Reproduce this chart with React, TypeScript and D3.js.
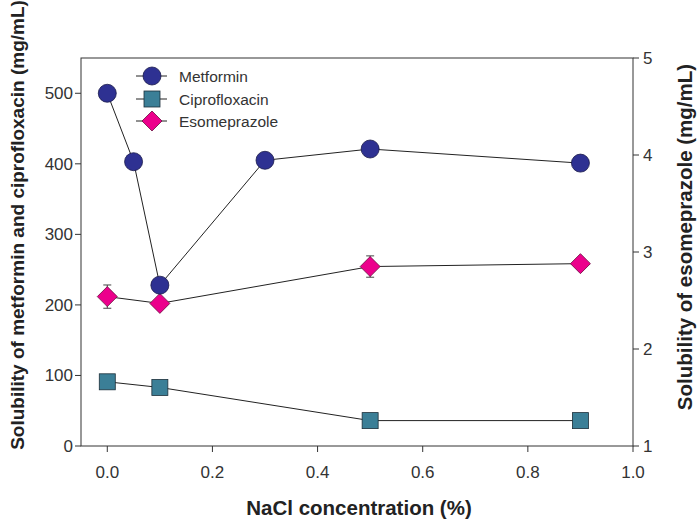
import React from "react";
import * as d3 from "d3";

const metX = [0, 0.05, 0.1, 0.3, 0.5, 0.9];
const metY = [500, 403, 228, 405, 421, 401];
const ciproX = [0, 0.1, 0.5, 0.9];
const ciproY = [91, 83, 36, 36];
const esoX = [0, 0.1, 0.5, 0.9];
const esoY = [2.54, 2.47, 2.85, 2.88];
const esoErr = [0.12, 0, 0.11, 0];
const xTicks = [0, 0.2, 0.4, 0.6, 0.8, 1.0];
const leftTicks = [0, 100, 200, 300, 400, 500];
const rightTicks = [1, 2, 3, 4, 5];
const legendNames = ["Metformin", "Ciprofloxacin", "Esomeprazole"];

const W = 700, H = 522;
const L = 81, R = 633, T = 58, B = 446;

export default function App() {
  const x = d3.scaleLinear().domain([-0.05, 1.0]).range([L, R]);
  const yL = d3.scaleLinear().domain([0, 550]).range([B, T]);
  const yR = d3.scaleLinear().domain([1, 5]).range([B, T]);
  const font = "'Liberation Sans', Arial, sans-serif";
  const met = metX.map((v, i) => [x(v), yL(metY[i])] as [number, number]);
  const cip = ciproX.map((v, i) => [x(v), yL(ciproY[i])] as [number, number]);
  const eso = esoX.map((v, i) => [x(v), yR(esoY[i])] as [number, number]);
  const line = d3.line();
  const metColor = "#2e3192", cipColor = "#3b7f97", esoColor = "#ec008c";
  const circle = (cx: number, cy: number, k: string) => (
    <circle key={k} cx={cx} cy={cy} r={9} fill={metColor} stroke="#1a1a4a" strokeWidth={0.8} />
  );
  const square = (cx: number, cy: number, k: string) => (
    <rect key={k} x={cx - 8} y={cy - 8} width={16} height={16} fill={cipColor} stroke="#1c2f3a" strokeWidth={0.8} />
  );
  const diamond = (cx: number, cy: number, k: string) => (
    <path key={k} d={`M${cx},${cy - 10}L${cx + 10},${cy}L${cx},${cy + 10}L${cx - 10},${cy}Z`} fill={esoColor} stroke="#6a1040" strokeWidth={0.8} />
  );
  const legendY = [76, 99, 121];
  const markers = [circle, square, diamond];
  return (
    <svg width={W} height={H} style={{ position: "absolute", left: 0, top: 0, background: "#fff" }}>
      <rect x={0} y={0} width={W} height={H} fill="#fff" />
      <rect x={L} y={T} width={R - L} height={B - T} fill="none" stroke="#333" strokeWidth={1} />
      {xTicks.map((t) => (
        <g key={"xt" + t}>
          <line x1={x(t)} x2={x(t)} y1={B} y2={B + 6} stroke="#333" />
          <text x={x(t)} y={478} textAnchor="middle" fontFamily={font} fontSize={17} fill="#333">
            {t.toFixed(1)}
          </text>
        </g>
      ))}
      {leftTicks.map((t) => (
        <g key={"lt" + t}>
          <line x1={L - 6} x2={L} y1={yL(t)} y2={yL(t)} stroke="#333" />
          <text x={73} y={yL(t) + 6} textAnchor="end" fontFamily={font} fontSize={17} fill="#333">
            {t}
          </text>
        </g>
      ))}
      {rightTicks.map((t) => (
        <g key={"rt" + t}>
          <line x1={R} x2={R + 6} y1={yR(t)} y2={yR(t)} stroke="#333" />
          <text x={643} y={yR(t) + 6} textAnchor="start" fontFamily={font} fontSize={17} fill="#333">
            {t}
          </text>
        </g>
      ))}
      <text x={359} y={515} textAnchor="middle" fontFamily={font} fontSize={20.5} fontWeight="bold" fill="#222">
        NaCl concentration (%)
      </text>
      <text transform={`translate(24,225) rotate(-90)`} textAnchor="middle" fontFamily={font} fontSize={19} fontWeight="bold" fill="#222">
        Solubility of metformin and ciprofloxacin (mg/mL)
      </text>
      <text transform={`translate(692,237) rotate(-90)`} textAnchor="middle" fontFamily={font} fontSize={20.5} fontWeight="bold" fill="#222">
        Solubility of esomeprazole (mg/mL)
      </text>
      <path d={line(met) || ""} fill="none" stroke="#222" strokeWidth={1} />
      <path d={line(cip) || ""} fill="none" stroke="#222" strokeWidth={1} />
      <path d={line(eso) || ""} fill="none" stroke="#222" strokeWidth={1} />
      {esoX.map((v, i) =>
        esoErr[i] > 0 ? (
          <g key={"e" + i} stroke="#444" strokeWidth={1}>
            <line x1={x(v)} x2={x(v)} y1={yR(esoY[i] + esoErr[i])} y2={yR(esoY[i] - esoErr[i])} />
            <line x1={x(v) - 4} x2={x(v) + 4} y1={yR(esoY[i] + esoErr[i])} y2={yR(esoY[i] + esoErr[i])} />
            <line x1={x(v) - 4} x2={x(v) + 4} y1={yR(esoY[i] - esoErr[i])} y2={yR(esoY[i] - esoErr[i])} />
          </g>
        ) : null
      )}
      {cip.map((p, i) => square(p[0], p[1], "c" + i))}
      {eso.map((p, i) => diamond(p[0], p[1], "d" + i))}
      {met.map((p, i) => circle(p[0], p[1], "m" + i))}
      {legendNames.map((n, i) => (
        <g key={"lg" + i}>
          <line x1={136} x2={167} y1={legendY[i]} y2={legendY[i]} stroke="#222" />
          {markers[i](152, legendY[i], "lm" + i)}
          <text x={179} y={legendY[i] + 5.5} fontFamily={font} fontSize={15.5} fill="#333">
            {n}
          </text>
        </g>
      ))}
    </svg>
  );
}
